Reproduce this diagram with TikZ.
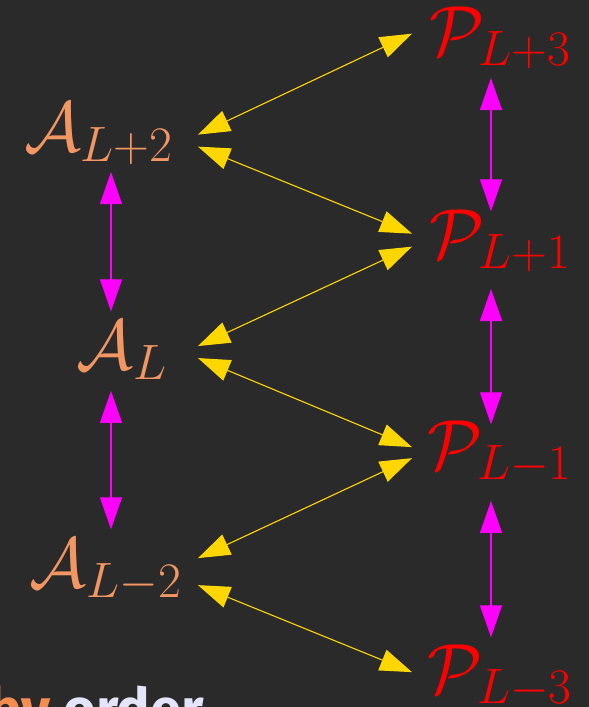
\RequirePackage{fix-cm}
\documentclass[tikz,border=0pt]{standalone}
\usepackage{fontspec}
\newfontfamily\slidefont{Fira Sans}
\usepackage{xcolor}
\definecolor{Board}{RGB}{42,42,42}
\definecolor{ALabel}{RGB}{242,150,100}
\definecolor{PLabel}{RGB}{255,0,0}
\definecolor{LinkYellow}{RGB}{255,215,0}
\definecolor{LinkMagenta}{RGB}{255,0,255}
\definecolor{NoteOrange}{RGB}{245,140,80}
\definecolor{NoteWhite}{RGB}{228,228,250}
\usepackage{tikz}
\usetikzlibrary{arrows.meta, calc}
\tikzset{
  % Column labels
  alab/.style={
    text=ALabel, anchor=base, inner sep=0pt,
    font=\fontsize{71}{80}\selectfont
  },
  plab/.style={alab, text=PLabel},
  % Arrows
  yarr/.style={
    {Triangle[length=32pt,width=22pt]}-{Triangle[length=32pt,width=22pt]},
    line width=1.1pt, LinkYellow
  },
  marr/.style={yarr, LinkMagenta},
  % Cut-off line of slide text
  note/.style={
    anchor=base west, inner sep=0pt, text=NoteWhite,
    font=\slidefont\fontsize{56}{60}\selectfont\bfseries
  },
}

\begin{document}
\begin{tikzpicture}[x=1pt, y=-1pt]

  \path[use as bounding box, clip] (0,0) rectangle (589,707);
  \fill[Board] (0,0) rectangle (589,707);

  %% Columns
  \coordinate (acol) at (111,0);
  \coordinate (pcol) at (491,0);
  \coordinate (aout) at (198,0);
  \coordinate (pin)  at (412,0);

  \node[alab] (a2)  at (98.5,151)  {$\mathcal{A}_{L+2}$};
  \node[alab] (a0)  at (122,369)   {$\mathcal{A}_{L}$};
  \node[alab] (am2) at (105.5,587) {$\mathcal{A}_{L-2}$};

  \node[plab] (p3)  at (500,55)  {$\mathcal{P}_{L+3}$};
  \node[plab] (p1)  at (500,258) {$\mathcal{P}_{L+1}$};
  \node[plab] (pm1) at (500,469) {$\mathcal{P}_{L-1}$};
  \node[plab] (pm3) at (500,693) {$\mathcal{P}_{L-3}$};

  \node[note] (byorder) at (-12,728) {\textcolor{NoteOrange}{by} order};

  %% Arrows
  \draw[yarr] ($(a2.east -| aout)+(0,1)$)   -- ($(p3.west -| pin)+(0,-4)$);
  \draw[yarr] ($(a2.east -| aout)+(0,13)$)  -- ($(p1.west -| pin)+(0,-7)$);
  \draw[yarr] ($(a0.east -| aout)+(0,-4)$)  -- ($(p1.west -| pin)+(0,6)$);
  \draw[yarr] ($(a0.east -| aout)+(0,8)$)   -- ($(pm1.west -| pin)+(0,-5)$);
  \draw[yarr] ($(am2.east -| aout)+(0,-12)$) -- ($(pm1.west -| pin)+(0,6)$);
  \draw[yarr] ($(am2.east -| aout)+(0,15)$) -- ($(pm3.west -| pin)+(0,-4)$);

  \draw[marr] ($(a2.south -| acol)+(0,7)$)  -- ($(a0.north -| acol)+(0,-9)$);
  \draw[marr] ($(a0.south -| acol)+(0,11)$) -- ($(am2.north -| acol)+(0,-9)$);

  \draw[marr] ($(p3.south -| pcol)+(0,9)$)   -- ($(p1.north -| pcol)+(0,2)$);
  \draw[marr] ($(p1.south -| pcol)+(0,17)$)  -- ($(pm1.north -| pcol)+(0,4)$);
  \draw[marr] ($(pm1.south -| pcol)+(0,17)$) -- ($(pm3.north -| pcol)+(0,-7)$);

\end{tikzpicture}
\end{document}
